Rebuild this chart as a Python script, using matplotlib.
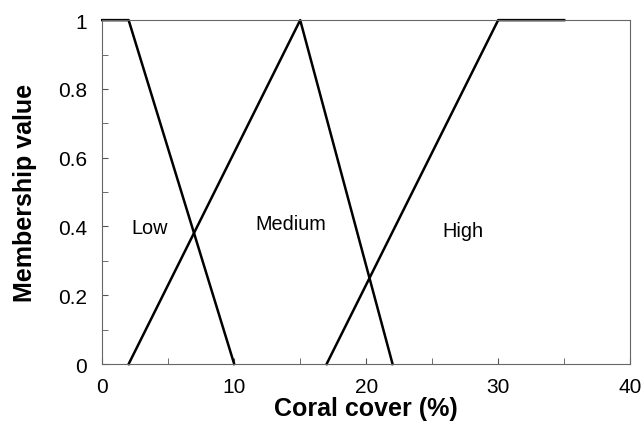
import numpy as np
import matplotlib.pyplot as plt
from matplotlib.ticker import MultipleLocator

plt.rcParams['font.family'] = ['Liberation Sans', 'DejaVu Sans']

# membership functions (coral cover %, membership)
low_x = [0, 2, 10]
low_y = [1, 1, 0]
med_x = [2, 15, 22]
med_y = [0, 1, 0]
high_x = [17, 30, 35]
high_y = [0, 1, 1]

labels = ['Low', 'Medium', 'High']
label_x = [3.6, 14.3, 27.3]
label_y = [0.398, 0.41, 0.387]

fig = plt.figure(figsize=(6.43, 4.31), dpi=100)
ax = fig.add_axes([0.159, 0.153, 0.821, 0.798])

for xs, ys in [(low_x, low_y), (med_x, med_y), (high_x, high_y)]:
    ax.plot(xs, ys, color='black', lw=1.8, clip_on=False)

for t, x, y in zip(labels, label_x, label_y):
    ax.text(x, y, t, fontsize=14.3, ha='center', va='center')

ax.set_xlim(0, 40)
ax.set_ylim(0, 1)
ax.xaxis.set_major_locator(MultipleLocator(10))
ax.xaxis.set_minor_locator(MultipleLocator(5))
ax.yaxis.set_minor_locator(MultipleLocator(0.1))
ax.set_yticks([0, 0.2, 0.4, 0.6, 0.8, 1])
ax.set_yticklabels(['0', '0.2', '0.4', '0.6', '0.8', '1'])

ax.tick_params(which='both', direction='in', labelsize=15, color='#555555')
ax.tick_params(which='both', length=4)
ax.tick_params(axis='x', pad=9)
ax.tick_params(axis='y', pad=11)
for s in ax.spines.values():
    s.set_color('#666666')
    s.set_linewidth(0.8)

ax.set_xlabel('Coral cover (%)', fontsize=18, fontweight='bold', labelpad=0)
ax.set_ylabel('Membership value', fontsize=18, fontweight='bold', labelpad=15)

fig.savefig('out.png', dpi=100)
